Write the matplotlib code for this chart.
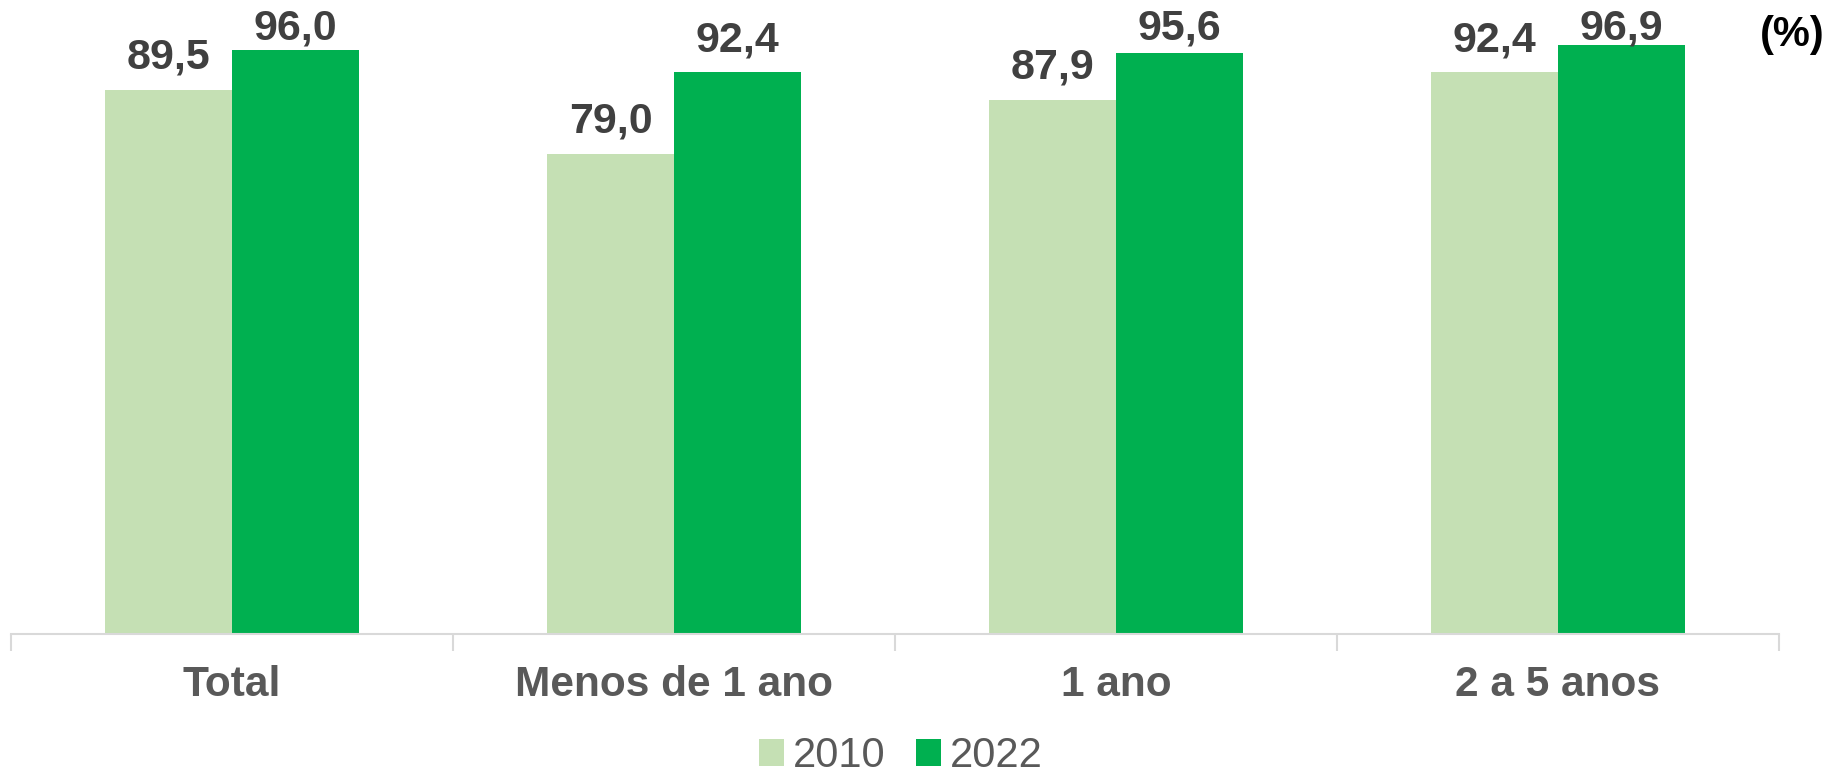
import matplotlib.pyplot as plt
import numpy as np

categories = ["Total", "Menos de 1 ano", "1 ano", "2 a 5 anos"]
years = ["2010", "2022"]
vals_2010 = [89.5, 79.0, 87.9, 92.4]
vals_2022 = [96.0, 92.4, 95.6, 96.9]

plt.rcParams['font.family'] = ['Liberation Sans', 'DejaVu Sans']

fig = plt.figure(figsize=(18.31, 7.74), dpi=100)
ax = fig.add_axes([11 / 1831, 1 - 634 / 774, 1768 / 1831, 608 / 774])

x = np.arange(len(categories))
w = 0.287
b1 = ax.bar(x - w / 2, vals_2010, w, color="#c5e0b4", label=years[0])
b2 = ax.bar(x + w / 2, vals_2022, w, color="#00b050", label=years[1])

# labels sit a bit above the bar, but are kept inside the plot area near the top
for bars, vals in [(b1, vals_2010), (b2, vals_2022)]:
    for r, v in zip(bars, vals):
        ypos = min(v + 3.45, 97.7)
        ax.text(r.get_x() + r.get_width() / 2, ypos, f"{v:.1f}".replace(".", ","),
                ha="center", va="baseline", fontsize=31, fontweight="bold", color="#404040")

ax.set_xlim(-0.5, len(categories) - 0.5)
ax.set_ylim(0, 100)
ax.set_yticks([])
for s in ["left", "right", "top"]:
    ax.spines[s].set_visible(False)
ax.spines["bottom"].set_color("#d9d9d9")
ax.spines["bottom"].set_linewidth(1.5)

ax.set_xticks(x)
ax.set_xticklabels(categories, fontsize=30.5, fontweight="bold", color="#595959")
ax.tick_params(axis="x", which="major", length=0, pad=22)
ax.set_xticks(np.arange(-0.5, len(categories)), minor=True)
ax.tick_params(axis="x", which="minor", length=12, width=1.5, color="#d9d9d9")

fig.text(1825 / 1831, 1 - 35 / 774, "(%)", ha="right", va="center",
         fontsize=30, fontweight="bold", color="black")

fig.legend(loc="center", bbox_to_anchor=(901 / 1831, 1 - 756 / 774), ncol=2, frameon=False,
           fontsize=30, labelcolor="#595959", handlelength=0.6, handleheight=0.6,
           handletextpad=0.2, columnspacing=0.75, borderpad=0.1)

fig.savefig("out.png", dpi=100)
